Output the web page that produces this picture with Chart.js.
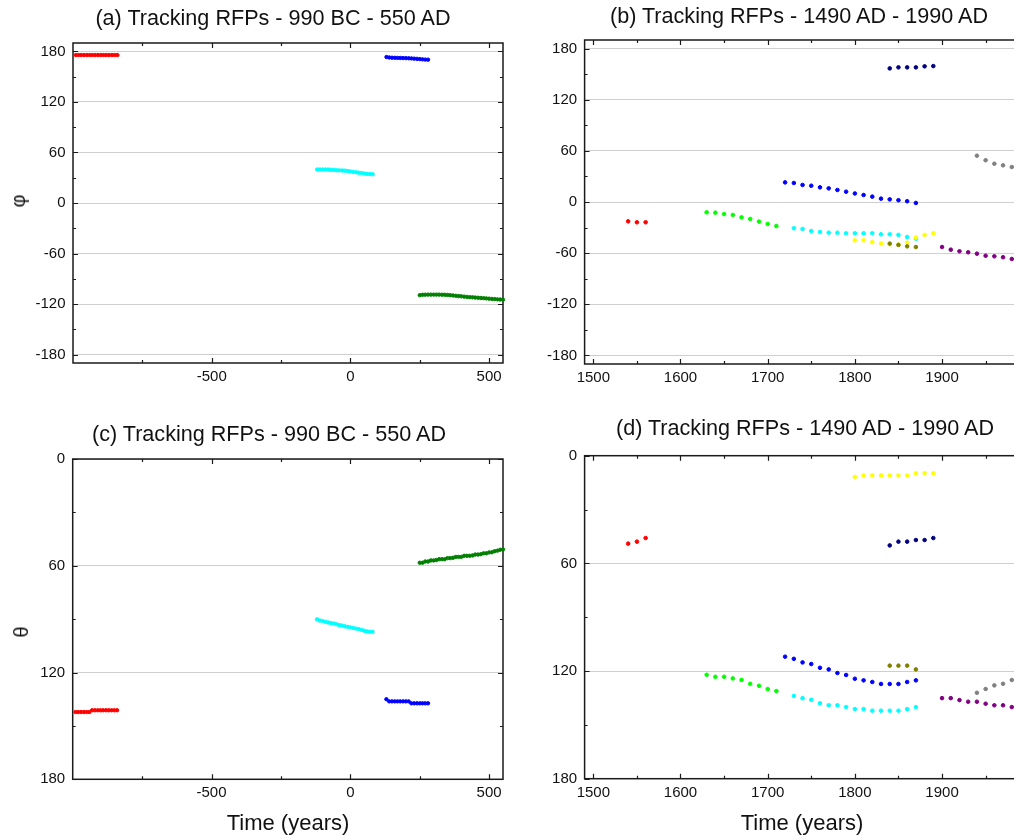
<!DOCTYPE html>
<html lang="en">
<head>
<meta charset="UTF-8">
<title>Tracking RFPs</title>
<script src="https://cdn.jsdelivr.net/npm/chart.js"></script>
<style>
  html, body { margin: 0; padding: 0; background: #fff; overflow: hidden; }
  #page { position: relative; width: 1014px; height: 836px; overflow: hidden; font-family: 'Liberation Sans', Arial, sans-serif; color: #111; }
  canvas { position: absolute; }
  .title { position: absolute; font-size: 21.6px; line-height: 24px; white-space: nowrap; transform: translateX(-50%); }
  .xlab { position: absolute; font-size: 22px; line-height: 24px; white-space: nowrap; transform: translateX(-50%); }
  .ylab { position: absolute; font-size: 20px; line-height: 20px; transform: translate(-50%, -50%) rotate(-90deg); }
</style>
</head>
<body>
<div id="page">
  <canvas id="chartA" width="510" height="400" style="left:0;top:0"></canvas>
  <canvas id="chartB" width="520" height="400" style="left:510px;top:0"></canvas>
  <canvas id="chartC" width="510" height="426" style="left:0;top:410px"></canvas>
  <canvas id="chartD" width="520" height="426" style="left:510px;top:410px"></canvas>

  <div class="title" style="left:273px;top:5.5px">(a) Tracking RFPs - 990 BC - 550 AD</div>
  <div class="title" style="left:799px;top:3.8px">(b) Tracking RFPs - 1490 AD - 1990 AD</div>
  <div class="title" style="left:269px;top:422px">(c) Tracking RFPs - 990 BC - 550 AD</div>
  <div class="title" style="left:805px;top:415.5px">(d) Tracking RFPs - 1490 AD - 1990 AD</div>

  <div class="ylab" style="left:18px;top:201px">φ</div>
  <div class="ylab" style="left:21px;top:632px">θ</div>
  <div class="xlab" style="left:288px;top:811px">Time (years)</div>
  <div class="xlab" style="left:802px;top:811px">Time (years)</div>
</div>

<script>
// ---- tick labels ----
const phiTicks = [-180, -120, -60, 0, 60, 120, 180];
const phiMinor = [-150, -90, -30, 30, 90, 150];
const thetaTicks = [0, 60, 120, 180];
const thetaMinor = [30, 90, 150];
const oldTicks = [-500, 0, 500];
const oldMinor = [-750, -250, 250];
const newTicks = [1500, 1600, 1700, 1800, 1900];
const newMinor = [1550, 1650, 1750, 1850, 1950];

// ---- 990 BC - 550 AD (panels a, c) ----
const yrsRed = [-990, -980, -970, -960, -950, -940, -930, -920, -910, -900, -890, -880, -870, -860, -850, -840];
const yrsCyan = [-120, -110, -100, -90, -80, -70, -60, -50, -40, -30, -20, -10, 0, 10, 20, 30, 40, 50, 60, 70, 80];
const yrsBlue = [130, 140, 150, 160, 170, 180, 190, 200, 210, 220, 230, 240, 250, 260, 270, 280];
const yrsGreen = [250, 260, 270, 280, 290, 300, 310, 320, 330, 340, 350, 360, 370, 380, 390, 400,
                  410, 420, 430, 440, 450, 460, 470, 480, 490, 500, 510, 520, 530, 540, 550];

const phiRed = [175.7, 175.7, 175.7, 175.7, 175.7, 175.7, 175.7, 175.7, 175.7, 175.7, 175.7, 175.7, 175.7, 175.7, 175.7, 175.7];
const phiCyan = [39.8, 39.8, 39.8, 39.8, 39.7, 39.5, 39.3, 39.0, 38.8, 38.6, 38.4, 38.0, 37.5, 37.0, 36.5, 36.0, 35.6, 35.0, 34.6, 34.3, 34.3];
const phiBlue = [173.3, 172.8, 172.5, 172.4, 172.3, 172.2, 172.1, 172.0, 171.9, 171.7, 171.4, 171.2, 170.9, 170.6, 170.3, 170.2];
const phiGreen = [-109.4, -109.0, -108.9, -108.8, -108.8, -108.8, -108.8, -108.8, -108.9, -109.0, -109.2, -109.5, -109.8, -110.2, -110.5, -110.8,
                  -111.2, -111.5, -111.8, -112.0, -112.3, -112.5, -112.8, -113.0, -113.3, -113.6, -113.9, -114.1, -114.4, -114.6, -114.8];

const thRed = [142.2, 142.2, 142.2, 142.2, 142.2, 142.2, 141.2, 141.2, 141.2, 141.2, 141.2, 141.2, 141.2, 141.2, 141.2, 141.2];
const thCyan = [90.1, 90.8, 91.1, 91.5, 91.9, 92.2, 92.4, 92.8, 93.3, 93.6, 94.0, 94.3, 94.6, 94.9, 95.3, 95.6, 96.0, 96.5, 96.9, 97.1, 97.1];
const thBlue = [135.0, 136.2, 136.2, 136.2, 136.2, 136.2, 136.2, 136.2, 136.2, 137.3, 137.3, 137.3, 137.3, 137.3, 137.3, 137.3];
const thGreen = [58.3, 58.3, 57.6, 57.6, 57.0, 57.0, 56.8, 56.3, 56.3, 56.3, 55.7, 55.7, 55.5, 55.0, 55.0, 55.0,
                 54.4, 54.4, 54.4, 54.2, 53.7, 53.7, 53.5, 53.0, 53.0, 52.5, 52.4, 51.8, 51.5, 51.0, 50.8];

// ---- 1490 AD - 1990 AD (panels b, d) ----
const nRedYrs = [1540, 1550, 1560];
const nLimeYrs = [1630, 1640, 1650, 1660, 1670, 1680, 1690, 1700, 1710];
const nBlueYrs = [1720, 1730, 1740, 1750, 1760, 1770, 1780, 1790, 1800, 1810, 1820, 1830, 1840, 1850, 1860, 1870];
const nCyanYrs = [1730, 1740, 1750, 1760, 1770, 1780, 1790, 1800, 1810, 1820, 1830, 1840, 1850, 1860, 1870];
const nYellowYrs = [1800, 1810, 1820, 1830, 1840, 1850, 1860, 1870, 1880, 1890];
const nNavyYrs = [1840, 1850, 1860, 1870, 1880, 1890];
const nOliveYrs = [1840, 1850, 1860, 1870];
const nPurpleYrs = [1900, 1910, 1920, 1930, 1940, 1950, 1960, 1970, 1980];
const nGrayYrs = [1940, 1950, 1960, 1970, 1980];

const phiNRed = [-22.7, -23.8, -23.8];
const phiNLime = [-12.1, -12.5, -14.1, -15.2, -18.0, -19.9, -23.0, -25.8, -28.1];
const phiNBlue = [23.0, 22.3, 20.0, 19.1, 17.2, 16.0, 14.1, 12.1, 10.0, 8.2, 6.3, 3.9, 3.1, 2.1, 0.9, -1.1];
const phiNCyan = [-30.8, -31.7, -34.0, -35.2, -36.0, -36.0, -36.7, -36.7, -36.7, -36.7, -37.9, -37.9, -38.7, -41.0, -43.0];
const phiNYellow = [-44.9, -44.9, -46.9, -48.8, -49.6, -50.0, -47.7, -41.8, -38.7, -36.7];
const phiNNavy = [156.7, 157.9, 157.9, 157.9, 159.1, 159.4];
const phiNOlive = [-48.8, -50.3, -52.0, -52.8];
const phiNPurple = [-52.8, -55.9, -57.8, -59.0, -60.6, -63.0, -63.7, -64.8, -66.8];
const phiNGray = [54.3, 49.0, 44.9, 43.0, 41.0];

const thNRed = [49.0, 47.9, 45.9];
const thNLime = [122.1, 123.2, 123.2, 124.1, 125.0, 127.1, 128.2, 130.0, 131.2];
const thNBlue = [112.0, 113.2, 115.2, 116.1, 118.2, 119.1, 121.1, 122.2, 124.3, 125.2, 126.1, 127.2, 127.2, 127.2, 126.1, 125.2];
const thNCyan = [133.9, 135.1, 136.0, 138.0, 139.1, 139.1, 140.1, 141.2, 141.2, 142.1, 142.1, 142.1, 142.1, 141.2, 140.1];
const thNYellow = [11.9, 11.0, 11.0, 11.0, 11.0, 11.0, 11.0, 9.8, 9.8, 9.8];
const thNNavy = [50.0, 47.9, 47.9, 47.0, 47.0, 45.9];
const thNOlive = [117.0, 117.0, 117.0, 119.1];
const thNPurple = [135.1, 135.1, 136.2, 137.1, 137.1, 138.2, 139.1, 139.1, 140.1];
const thNGray = [132.1, 130.0, 128.0, 127.1, 125.0];

function pts(xs, ys) {
  return xs.map((x, i) => ({ x: x, y: ys[i] }));
}

function serie(xs, ys, color, r) {
  return {
    data: pts(xs, ys),
    backgroundColor: color,
    borderColor: color,
    borderWidth: 1,
    pointRadius: r,
    pointHoverRadius: r,
    clip: false
  };
}

// frame + inward tick marks on all four sides
const framePlugin = {
  id: 'frame',
  beforeDatasetsDraw(chart, args, opts) {
    const { ctx, chartArea: a } = chart;
    const xs = chart.scales.x, ys = chart.scales.y;
    ctx.save();
    ctx.strokeStyle = '#1a1a1a';
    ctx.lineWidth = 1.2;
    const tick = (v, len, horiz) => {
      ctx.beginPath();
      if (horiz) {
        const p = Math.round(ys.getPixelForValue(v)) + 0.5;
        ctx.moveTo(a.left, p); ctx.lineTo(a.left + len, p);
        ctx.moveTo(a.right, p); ctx.lineTo(a.right - len, p);
      } else {
        const p = Math.round(xs.getPixelForValue(v)) + 0.5;
        ctx.moveTo(p, a.top); ctx.lineTo(p, a.top + len);
        ctx.moveTo(p, a.bottom); ctx.lineTo(p, a.bottom - len);
      }
      ctx.stroke();
    };
    opts.yMajor.forEach(v => tick(v, 5, true));
    opts.yMinor.forEach(v => tick(v, 3, true));
    opts.xMajor.forEach(v => tick(v, 5, false));
    opts.xMinor.forEach(v => tick(v, 3, false));
    ctx.lineWidth = 1.5;
    ctx.strokeRect(a.left, a.top, a.right - a.left, a.bottom - a.top);
    ctx.restore();
  }
};

function makeChart(id, datasets, p) {
  new Chart(document.getElementById(id), {
    type: 'scatter',
    data: { datasets: datasets },
    options: {
      responsive: false,
      animation: false,
      layout: { padding: { top: p.top, right: p.right, bottom: 0, left: 0 } },
      plugins: {
        legend: { display: false },
        tooltip: { enabled: false },
        frame: { yMajor: p.yTicks, yMinor: p.yMinor, xMajor: p.xTicks, xMinor: p.xMinor }
      },
      scales: {
        x: {
          type: 'linear',
          min: p.xMin, max: p.xMax,
          afterBuildTicks: s => { s.ticks = p.xTicks.map(v => ({ value: v })); },
          afterFit: s => { s.height = p.xH; },
          grid: { display: false, drawTicks: false },
          border: { display: false },
          ticks: { autoSkip: false, maxRotation: 0, padding: 5, color: '#111',
                   callback: v => String(v),
                   font: { family: 'Liberation Sans', size: 15 } }
        },
        y: {
          min: p.yMin, max: p.yMax, reverse: p.reverse,
          afterBuildTicks: s => { s.ticks = p.yTicks.map(v => ({ value: v })); },
          afterFit: s => { s.width = p.yW; },
          grid: { color: '#cfcfcf', lineWidth: 1, drawTicks: false },
          border: { display: false },
          ticks: { padding: 7.5, color: '#111',
                   callback: v => String(v),
                   font: { family: 'Liberation Sans', size: 15 } }
        }
      }
    },
    plugins: [framePlugin]
  });
}

const oldAxis = { xMin: -1000, xMax: 550, xTicks: oldTicks, xMinor: oldMinor, right: 7 };
const newAxis = { xMin: 1490, xMax: 1990, xTicks: newTicks, xMinor: newMinor, right: 9.5 };

makeChart('chartA', [
  serie(yrsRed, phiRed, '#ff0000', 1.7),
  serie(yrsBlue, phiBlue, '#0000ff', 1.7),
  serie(yrsCyan, phiCyan, '#00ffff', 1.7),
  serie(yrsGreen, phiGreen, '#008000', 1.7)
], Object.assign({}, oldAxis, { top: 43, yW: 73, xH: 37, yMin: -190, yMax: 190, yTicks: phiTicks, yMinor: phiMinor, reverse: false }));

makeChart('chartC', [
  serie(yrsRed, thRed, '#ff0000', 1.7),
  serie(yrsBlue, thBlue, '#0000ff', 1.7),
  serie(yrsCyan, thCyan, '#00ffff', 1.7),
  serie(yrsGreen, thGreen, '#008000', 1.7)
], Object.assign({}, oldAxis, { top: 49, yW: 72.7, xH: 56.7, yMin: 0, yMax: 180, yTicks: thetaTicks, yMinor: thetaMinor, reverse: true }));

makeChart('chartB', [
  serie(nRedYrs, phiNRed, '#ff0000', 1.8),
  serie(nLimeYrs, phiNLime, '#00ff00', 1.8),
  serie(nBlueYrs, phiNBlue, '#0000ff', 1.8),
  serie(nNavyYrs, phiNNavy, '#000080', 1.8),
  serie(nOliveYrs, phiNOlive, '#808000', 1.8),
  serie(nYellowYrs, phiNYellow, '#ffff00', 1.8),
  serie(nCyanYrs, phiNCyan, '#00ffff', 1.8),
  serie(nGrayYrs, phiNGray, '#808080', 1.8),
  serie(nPurpleYrs, phiNPurple, '#800080', 1.8)
], Object.assign({}, newAxis, { top: 40, yW: 74.6, xH: 36, yMin: -190, yMax: 190, yTicks: phiTicks, yMinor: phiMinor, reverse: false }));

makeChart('chartD', [
  serie(nRedYrs, thNRed, '#ff0000', 1.8),
  serie(nLimeYrs, thNLime, '#00ff00', 1.8),
  serie(nBlueYrs, thNBlue, '#0000ff', 1.8),
  serie(nNavyYrs, thNNavy, '#000080', 1.8),
  serie(nOliveYrs, thNOlive, '#808000', 1.8),
  serie(nYellowYrs, thNYellow, '#ffff00', 1.8),
  serie(nCyanYrs, thNCyan, '#00ffff', 1.8),
  serie(nGrayYrs, thNGray, '#808080', 1.8),
  serie(nPurpleYrs, thNPurple, '#800080', 1.8)
], Object.assign({}, newAxis, { top: 45.7, yW: 74.6, xH: 57.3, yMin: 0, yMax: 180, yTicks: thetaTicks, yMinor: thetaMinor, reverse: true }));
</script>
</body>
</html>
